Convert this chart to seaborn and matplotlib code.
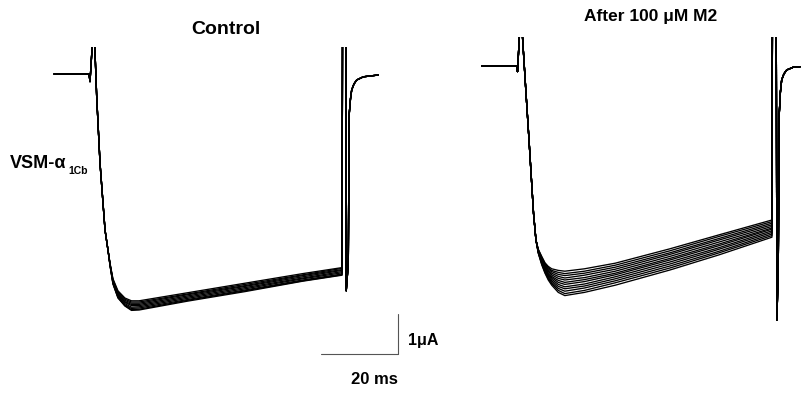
import numpy as np
import pandas as pd
import matplotlib
matplotlib.use("Agg")
import matplotlib.pyplot as plt
import seaborn as sns

# ---------------- data (time in ms from pulse onset, current in uA) ----------------
# Control panel: common onset segment (baseline, capacitive spike, activation)
ctrl_pre_t = [-9.6, -0.52, -0.26, 0.73, 1.48, 2.34, 3.64, 4.45]
ctrl_pre_i = [0.0, 0.0, -0.19, 1.35, -0.58, -2.23, -3.9, -4.43]
# Control sweeps during the pulse
ctrl_sweep_t = [4.95, 5.7, 7.0, 8.8, 10.5, 12.5, 25, 40, 55, 65.2]
ctrl_sweeps = [
    [-4.74, -5.12, -5.42, -5.60, -5.67, -5.67, -5.47, -5.23, -4.99, -4.84],
    [-4.75, -5.14, -5.45, -5.63, -5.70, -5.70, -5.50, -5.26, -5.02, -4.86],
    [-4.76, -5.16, -5.48, -5.66, -5.73, -5.73, -5.52, -5.29, -5.04, -4.89],
    [-4.76, -5.18, -5.50, -5.69, -5.76, -5.76, -5.55, -5.31, -5.07, -4.91],
    [-4.77, -5.19, -5.52, -5.71, -5.79, -5.79, -5.58, -5.34, -5.10, -4.94],
    [-4.78, -5.21, -5.55, -5.74, -5.83, -5.82, -5.61, -5.37, -5.12, -4.97],
    [-4.79, -5.23, -5.57, -5.77, -5.86, -5.85, -5.64, -5.40, -5.15, -5.00],
    [-4.79, -5.24, -5.59, -5.79, -5.89, -5.88, -5.66, -5.42, -5.17, -5.02],
    [-4.80, -5.25, -5.60, -5.80, -5.91, -5.90, -5.68, -5.44, -5.18, -5.03],
]
# Control: common repolarisation spike and tail current
ctrl_post_t = [65.35, 66.15, 66.3, 66.83, 66.96, 67.09, 67.4, 67.71, 68.3, 69.01, 70.73, 74.62]
ctrl_post_i = [2.0, 2.0, -5.42, -4.73, -2.65, -0.98, -0.62, -0.4, -0.25, -0.15, -0.07, -0.025]

# After 100 uM M2 panel
m2_pre_t = [-9.61, -0.52, -0.39, 0.47, 1.74, 2.6, 3.77, 4.4]
m2_pre_i = [0.0, 0.0, -0.14, 1.4, -0.56, -1.85, -3.68, -4.35]
m2_sweep_t = [5.0, 5.9, 6.75, 7.6, 8.5, 10.2, 11.9, 17, 25, 39.2, 52, 65.7]
m2_sweeps = [
    [-4.58, -4.76, -4.92, -5.01, -5.07, -5.11, -5.13, -5.07, -4.93, -4.57, -4.22, -3.85],
    [-4.59, -4.78, -4.94, -5.04, -5.11, -5.16, -5.19, -5.13, -4.98, -4.62, -4.26, -3.89],
    [-4.60, -4.80, -4.97, -5.07, -5.14, -5.21, -5.24, -5.18, -5.03, -4.67, -4.31, -3.93],
    [-4.61, -4.82, -4.99, -5.10, -5.18, -5.26, -5.30, -5.23, -5.08, -4.71, -4.35, -3.97],
    [-4.62, -4.84, -5.02, -5.13, -5.22, -5.31, -5.35, -5.29, -5.13, -4.76, -4.40, -4.01],
    [-4.63, -4.86, -5.04, -5.17, -5.26, -5.36, -5.41, -5.34, -5.18, -4.81, -4.45, -4.05],
    [-4.63, -4.87, -5.06, -5.20, -5.29, -5.41, -5.46, -5.39, -5.22, -4.85, -4.49, -4.08],
    [-4.64, -4.89, -5.09, -5.23, -5.33, -5.46, -5.52, -5.45, -5.27, -4.90, -4.54, -4.12],
    [-4.65, -4.91, -5.11, -5.26, -5.37, -5.51, -5.57, -5.50, -5.32, -4.95, -4.58, -4.16],
    [-4.66, -4.93, -5.13, -5.29, -5.41, -5.56, -5.63, -5.55, -5.37, -5.00, -4.63, -4.20],
    [-4.67, -4.95, -5.16, -5.32, -5.44, -5.61, -5.69, -5.61, -5.42, -5.05, -4.67, -4.24],
    [-4.68, -4.97, -5.18, -5.35, -5.48, -5.66, -5.74, -5.66, -5.48, -5.10, -4.72, -4.28],
]
m2_post_t = [65.85, 66.8, 67.0, 67.35, 67.48, 67.61, 67.9, 68.23, 68.8, 69.53, 71.25, 72.99]
m2_post_i = [2.0, 2.0, -6.35, -4.93, -2.9, -1.18, -0.65, -0.35, -0.2, -0.1, -0.03, -0.02]

panel_titles = ["Control", "After 100 \u03bcM M2"]
row_label = "VSM-\u03b1"
row_label_sub = "1Cb"
scale_time = 20      # ms
scale_current = 1    # uA
scale_labels = ["20 ms", "1\u03bcA"]


def build_frame(pre_t, pre_i, sweep_t, sweeps, post_t, post_i):
    rows = []
    for k, sw in enumerate(sweeps):
        ts = list(pre_t) + list(sweep_t) + list(post_t)
        vs = list(pre_i) + list(sw) + list(post_i)
        for t, v in zip(ts, vs):
            rows.append({"t": t, "i": v, "sweep": k})
    return pd.DataFrame(rows)


df_ctrl = build_frame(ctrl_pre_t, ctrl_pre_i, ctrl_sweep_t, ctrl_sweeps, ctrl_post_t, ctrl_post_i)
df_m2 = build_frame(m2_pre_t, m2_pre_i, m2_sweep_t, m2_sweeps, m2_post_t, m2_post_i)

sns.set_theme(style="white")
plt.rcParams["font.family"] = ["Liberation Sans", "DejaVu Sans"]
plt.rcParams["text.color"] = "black"

W, H = 801, 397
fig = plt.figure(figsize=(W / 100, H / 100), dpi=100)


def px_axes(x0, y0, x1, y1):
    return fig.add_axes([x0 / W, 1 - y1 / H, (x1 - x0) / W, (y1 - y0) / H])


ax1 = px_axes(40, 47, 400, 330)
ax2 = px_axes(470, 37, 801, 335)

for ax, df in ((ax1, df_ctrl), (ax2, df_m2)):
    sns.lineplot(data=df, x="t", y="i", units="sweep", estimator=None, sort=False,
                 color="black", linewidth=0.95, ax=ax, legend=False)
    ax.axis("off")

ax1.set_xlim(-13.25, 80.26)
ax1.set_ylim(-6.4, 0.675)
ax2.set_xlim(-12.73, 73.25)
ax2.set_ylim(-6.725, 0.725)

# scale bar in control-panel data units
sb_t0, sb_i0 = 59.74, -7.01
ax1.plot([sb_t0, sb_t0 + scale_time], [sb_i0, sb_i0], color="#555555", lw=0.8, clip_on=False)
ax1.plot([sb_t0 + scale_time, sb_t0 + scale_time], [sb_i0, sb_i0 + scale_current],
         color="#555555", lw=0.8, clip_on=False)


def ftext(x, y, s, **kw):
    fig.text(x / W, 1 - y / H, s, color="black", **kw)


ftext(226, 30, panel_titles[0], ha="center", va="center", fontsize=14, fontweight="bold")
ftext(651, 17, panel_titles[1], ha="center", va="center", fontsize=12.5, fontweight="bold")
ftext(10, 163, row_label, ha="left", va="center", fontsize=13, fontweight="bold")
ftext(68, 171, row_label_sub, ha="left", va="center", fontsize=7.5, fontweight="bold")
ftext(374, 380, scale_labels[0], ha="center", va="center", fontsize=12, fontweight="bold")
ftext(408, 340, scale_labels[1], ha="left", va="center", fontsize=11.5, fontweight="bold")

fig.savefig("out.png", dpi=100)
